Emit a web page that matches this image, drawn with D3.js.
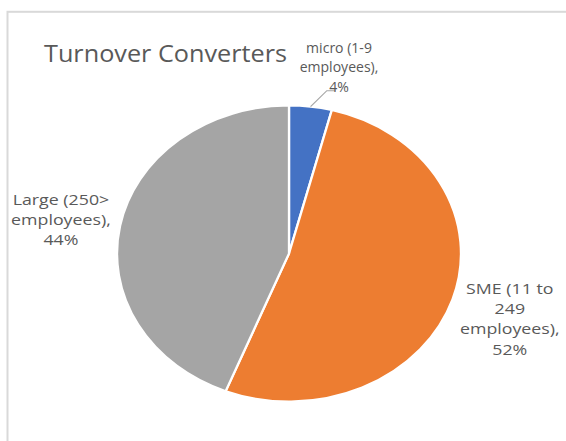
<!DOCTYPE html>
<html>
<head>
<meta charset="utf-8">
<script src="https://cdn.jsdelivr.net/npm/d3@7"></script>
<style>
  html, body { margin: 0; padding: 0; background: #fff; }
  svg { display: block; }
</style>
</head>
<body>
<svg id="chart" width="566" height="441"></svg>
<script>
// Turnover share of converters by company size
const title = "Turnover Converters";
const categories = ["micro (1-9 employees)", "SME (11 to 249 employees)", "Large (250> employees)"];
const categoryLines = [
  ["micro (1-9", "employees),"],
  ["SME (11 to", "249", "employees),"],
  ["Large (250>", "employees),"]
];
const values = [4, 52, 44];
const colors = ["#4472C4", "#ED7D31", "#A5A5A5"];

const W = 566, H = 441;
const sx = 1.162;              // horizontal stretch of the plot area
const R = 148;                 // pie radius (unstretched units)
const cx = 289 / sx, cy = 253.5;
const lineH = 20.3;
const textColor = "#595959";

const svg = d3.select("#chart");

// chart area frame
svg.append("rect")
  .attr("x", 7.5).attr("y", 11.8)
  .attr("width", W + 20).attr("height", H + 20)
  .attr("fill", "none")
  .attr("stroke", "#d9d9d9")
  .attr("stroke-width", 2);

const g = svg.append("g").attr("transform", `scale(${sx},1)`);

g.append("text")
  .attr("x", 44 / sx).attr("y", 62.5)
  .attr("font-family", "'Open Sans', sans-serif")
  .attr("font-size", 23)
  .attr("textLength", 243 / sx)
  .attr("lengthAdjust", "spacingAndGlyphs")
  .attr("fill", textColor)
  .text(title);

const data = categories.map((c, i) => ({ name: c, lines: categoryLines[i], value: values[i], color: colors[i] }));

const pie = d3.pie().sort(null).value(d => d.value);
const arcs = pie(data);
const arc = d3.arc().innerRadius(0).outerRadius(R);

const plot = g.append("g").attr("transform", `translate(${cx},${cy})`);

plot.selectAll("path.slice")
  .data(arcs)
  .join("path")
  .attr("class", "slice")
  .attr("d", arc)
  .attr("fill", d => d.data.color)
  .attr("stroke", "#fff")
  .attr("stroke-width", 2)
  .attr("stroke-linejoin", "round");

const total = d3.sum(values);
const labelR = R * 1.35;

arcs.forEach(a => {
  const mid = (a.startAngle + a.endAngle) / 2;
  const lines = a.data.lines.concat([Math.round(a.data.value / total * 100) + "%"]);
  const small = a.data.value / total < 0.1;
  let tx, ty;
  if (small) {
    // small slice: label sits outside with an elbow leader line
    const ex = Math.sin(mid) * R, ey = -Math.cos(mid) * R;
    const bx = ex + 14, by = ey - 16;
    const kx = bx + 7.5;
    plot.append("polyline")
      .attr("points", [[ex, ey], [bx, by], [kx, by]].map(p => p.join(",")).join(" "))
      .attr("fill", "none")
      .attr("stroke", "#a6a6a6")
      .attr("stroke-width", 1);
    tx = kx + 3; ty = by - 24;
  } else {
    tx = Math.sin(mid) * labelR;
    ty = -Math.cos(mid) * labelR + 3.5;
  }
  // outside labels are set in a condensed width
  const condense = small ? 0.79 : 1;
  const t = plot.append("text")
    .attr("text-anchor", "middle")
    .attr("transform", `translate(${tx},0) scale(${condense},1) translate(${-tx},0)`)
    .attr("font-family", "'Open Sans', sans-serif")
    .attr("font-size", 15.3)
    .attr("fill", textColor);
  lines.forEach((ln, i) => {
    t.append("tspan")
      .attr("x", tx)
      .attr("y", ty + (i - (lines.length - 1) / 2) * (small ? 19.5 : lineH))
      .attr("dy", "0.35em")
      .text(ln);
  });
});
</script>
</body>
</html>
